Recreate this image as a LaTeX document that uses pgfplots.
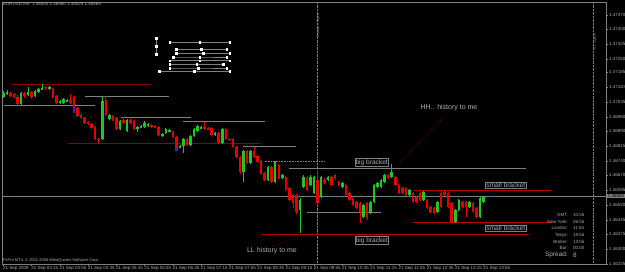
\documentclass[border=0pt]{standalone}
\usepackage{fontspec}
\setmainfont{Liberation Sans}
\usepackage{pgfplots}
\usepackage{pgfplotstable}
\pgfplotsset{compat=1.18}
\definecolor{cgreen}{RGB}{30,200,30}
\definecolor{cred}{RGB}{230,0,0}
\definecolor{cblue}{RGB}{40,40,230}
\definecolor{dred}{RGB}{140,0,0}
\definecolor{mred}{RGB}{185,0,0}
\definecolor{lgray}{RGB}{128,128,128}
\definecolor{txtgray}{RGB}{175,175,175}
\definecolor{pgray}{RGB}{110,130,140}
\definecolor{boxgray}{RGB}{120,130,140}

\pgfplotstableread{
x o h l c
31 1.47060 1.47090 1.47055 1.47080
32 1.47075 1.47095 1.47070 1.47085
36 1.47025 1.47085 1.47020 1.47080
38 1.47070 1.47110 1.47065 1.47085
40 1.47065 1.47095 1.47060 1.47090
41 1.47085 1.47105 1.47080 1.47100
42 1.47100 1.47125 1.47095 1.47105
44 1.47100 1.47115 1.47095 1.47110
47 1.47030 1.47045 1.47025 1.47040
48 1.47030 1.47055 1.47025 1.47050
49 1.47040 1.47050 1.47035 1.47045
59 1.46850 1.47060 1.46845 1.47040
61 1.46950 1.46975 1.46945 1.46970
64 1.46900 1.46945 1.46895 1.46940
66 1.46890 1.46950 1.46885 1.46945
69 1.46900 1.46915 1.46885 1.46910
70 1.46910 1.46920 1.46905 1.46915
71 1.46910 1.46940 1.46905 1.46930
72 1.46915 1.46930 1.46910 1.46925
76 1.46865 1.46880 1.46860 1.46875
77 1.46880 1.46905 1.46875 1.46900
78 1.46890 1.46900 1.46885 1.46895
81 1.46810 1.46820 1.46805 1.46815
82 1.46815 1.46855 1.46780 1.46850
84 1.46820 1.46870 1.46815 1.46865
85 1.46865 1.46905 1.46860 1.46900
86 1.46890 1.46920 1.46885 1.46915
87 1.46905 1.46915 1.46900 1.46910
91 1.46870 1.46885 1.46865 1.46880
93 1.46830 1.46905 1.46825 1.46900
99 1.46685 1.46795 1.46635 1.46790
101 1.46730 1.46795 1.46725 1.46790
106 1.46645 1.46715 1.46640 1.46710
108 1.46635 1.46740 1.46630 1.46735
110 1.46655 1.46675 1.46650 1.46670
115 1.46495 1.46555 1.46380 1.46545
116 1.46610 1.46670 1.46605 1.46660
118 1.46620 1.46670 1.46615 1.46660
119 1.46580 1.46665 1.46575 1.46660
121 1.46560 1.46665 1.46555 1.46660
123 1.46645 1.46665 1.46640 1.46660
127 1.46610 1.46635 1.46605 1.46630
133 1.46460 1.46525 1.46455 1.46520
135 1.46480 1.46540 1.46475 1.46535
136 1.46535 1.46625 1.46530 1.46620
137 1.46610 1.46635 1.46605 1.46630
138 1.46610 1.46650 1.46605 1.46645
139 1.46635 1.46675 1.46630 1.46670
141 1.46660 1.46725 1.46655 1.46685
146 1.46570 1.46600 1.46565 1.46595
150 1.46545 1.46590 1.46540 1.46585
154 1.46485 1.46540 1.46480 1.46535
159 1.46435 1.46500 1.46430 1.46495
160 1.46495 1.46550 1.46490 1.46545
163 1.46510 1.46540 1.46505 1.46535
166 1.46460 1.46560 1.46455 1.46555
167 1.46535 1.46565 1.46530 1.46560
}\greentab

\pgfplotstableread{
x o h l c
33 1.47080 1.47085 1.47060 1.47065
34 1.47075 1.47080 1.47055 1.47060
35 1.47060 1.47070 1.47020 1.47025
37 1.47080 1.47085 1.47055 1.47065
39 1.47085 1.47090 1.47050 1.47060
43 1.47110 1.47115 1.47095 1.47100
45 1.47100 1.47105 1.47055 1.47060
46 1.47065 1.47070 1.47025 1.47030
50 1.47045 1.47075 1.47025 1.47030
51 1.47060 1.47065 1.47005 1.47010
52 1.47005 1.47010 1.46960 1.46965
53 1.46970 1.46975 1.46950 1.46955
54 1.46955 1.46960 1.46925 1.46930
55 1.46935 1.46940 1.46920 1.46925
56 1.46925 1.46930 1.46900 1.46905
57 1.46910 1.46915 1.46845 1.46850
58 1.46850 1.46855 1.46830 1.46845
60 1.47045 1.47065 1.46965 1.46970
62 1.46965 1.46970 1.46940 1.46945
63 1.46955 1.46960 1.46895 1.46900
65 1.46945 1.46960 1.46925 1.46930
67 1.46945 1.46950 1.46925 1.46930
68 1.46940 1.46945 1.46895 1.46900
73 1.46920 1.46925 1.46905 1.46910
74 1.46915 1.46920 1.46905 1.46910
75 1.46910 1.46915 1.46865 1.46870
79 1.46885 1.46890 1.46855 1.46860
80 1.46860 1.46865 1.46805 1.46810
83 1.46850 1.46855 1.46815 1.46820
88 1.46910 1.46935 1.46895 1.46900
89 1.46905 1.46910 1.46895 1.46900
90 1.46905 1.46910 1.46865 1.46870
92 1.46880 1.46885 1.46825 1.46830
94 1.46900 1.46905 1.46845 1.46850
95 1.46850 1.46855 1.46840 1.46845
96 1.46850 1.46855 1.46805 1.46810
97 1.46810 1.46815 1.46755 1.46760
98 1.46760 1.46765 1.46675 1.46685
100 1.46790 1.46795 1.46725 1.46730
102 1.46790 1.46810 1.46755 1.46760
103 1.46765 1.46770 1.46730 1.46735
104 1.46740 1.46745 1.46670 1.46675
105 1.46680 1.46685 1.46640 1.46645
107 1.46710 1.46715 1.46630 1.46635
109 1.46720 1.46725 1.46650 1.46655
111 1.46660 1.46665 1.46590 1.46595
112 1.46605 1.46610 1.46540 1.46545
113 1.46570 1.46575 1.46505 1.46530
114 1.46570 1.46575 1.46475 1.46485
117 1.46655 1.46665 1.46590 1.46595
120 1.46645 1.46695 1.46520 1.46530
122 1.46645 1.46655 1.46625 1.46630
124 1.46660 1.46665 1.46615 1.46620
125 1.46670 1.46675 1.46645 1.46655
126 1.46635 1.46640 1.46615 1.46620
128 1.46620 1.46625 1.46565 1.46570
129 1.46580 1.46585 1.46540 1.46545
130 1.46555 1.46560 1.46515 1.46520
131 1.46535 1.46540 1.46500 1.46505
132 1.46530 1.46535 1.46430 1.46485
134 1.46530 1.46535 1.46445 1.46455
140 1.46670 1.46675 1.46650 1.46655
142 1.46660 1.46665 1.46615 1.46620
143 1.46620 1.46625 1.46575 1.46580
144 1.46605 1.46610 1.46575 1.46580
145 1.46605 1.46610 1.46565 1.46570
147 1.46580 1.46585 1.46530 1.46535
148 1.46560 1.46565 1.46530 1.46535
149 1.46580 1.46585 1.46540 1.46545
151 1.46545 1.46550 1.46500 1.46505
152 1.46510 1.46515 1.46480 1.46485
153 1.46505 1.46510 1.46475 1.46480
155 1.46580 1.46595 1.46505 1.46510
156 1.46585 1.46590 1.46565 1.46570
157 1.46580 1.46585 1.46505 1.46510
158 1.46530 1.46535 1.46430 1.46435
161 1.46535 1.46540 1.46505 1.46510
162 1.46535 1.46540 1.46460 1.46510
164 1.46530 1.46535 1.46480 1.46485
165 1.46505 1.46510 1.46455 1.46460
}\redtab

\pgfplotstableread{
x o c
51 1.47010 1.46980
80 1.46810 1.46790
}\bluetab

\newcommand{\tinyf}{\fontsize{4.5}{5}\selectfont}

\begin{document}
\begin{tikzpicture}[x=1pt,y=1pt]
\path[use as bounding box] (0,0) rectangle (625,272);
\fill[black] (0,0) rectangle (625,272);
\begin{axis}[
  at={(2pt,8pt)}, anchor=south west,
  width=604pt, height=262pt, scale only axis,
  xmin=30.6, xmax=201.7, ymin=1.46225, ymax=1.47535,
  axis background/.style={fill=black},
  axis line style={draw=lgray, line width=0.5pt},
  ytick pos=right, yticklabel pos=right,
  xtick pos=bottom,
  tick align=outside, major tick length=2pt,
  tick style={draw=lgray, line width=0.4pt},
  ytick={1.47470,1.47400,1.47325,1.47250,1.47185,1.47110,1.47035,1.46960,1.46890,1.46815,1.46740,1.46670,1.46595,1.46520,1.46445,1.46375,1.46300,1.46225},
  yticklabels={1.47470,1.47400,1.47325,1.47250,1.47185,1.47110,1.47035,1.46960,1.46890,1.46815,1.46740,1.46670,1.46595,1.46520,1.46445,1.46375,1.46300,1.46225},
  xtick={31,39,47,55,63,71,79,87,95,103,111,119,127,135,143,151,159,167},
  xticklabels={21 Sep 2009,21 Sep 03:15,21 Sep 03:55,21 Sep 04:35,21 Sep 05:15,21 Sep 05:55,21 Sep 06:35,21 Sep 07:15,21 Sep 07:55,21 Sep 08:35,21 Sep 09:15,21 Sep 09:55,21 Sep 10:35,21 Sep 11:15,21 Sep 11:55,21 Sep 12:35,21 Sep 13:15,21 Sep 13:55},
  xticklabel style={anchor=north west, font=\tinyf, text=txtgray, inner sep=0.6pt, xshift=-1pt},
  yticklabel style={anchor=west, font=\tinyf, text=txtgray, inner sep=0.8pt},
  clip=true,
]
% vertical session lines
\addplot[lgray, densely dotted, line width=0.4pt, forget plot] coordinates {(120.0,1.46225) (120.0,1.47535)};
\addplot[lgray, densely dotted, line width=0.4pt, forget plot] coordinates {(198.2,1.46225) (198.2,1.47535)};
% current price line
\addplot[pgray, line width=0.5pt, forget plot] coordinates {(30,1.46565) (202,1.46565)};
% dark red / red horizontal levels
\addplot[dred, line width=0.6pt, forget plot] coordinates {(33.1,1.47124) (73.0,1.47124)};
\addplot[dred, line width=0.6pt, forget plot] coordinates {(49.2,1.46829) (103.9,1.46829)};
\addplot[mred, line width=0.6pt, forget plot] coordinates {(103.9,1.46375) (180.0,1.46375)};
\addplot[mred, line width=0.6pt, forget plot] coordinates {(147.4,1.46592) (186.1,1.46592)};
\addplot[mred, line width=0.6pt, forget plot] coordinates {(146.9,1.46434) (186.1,1.46434)};
% gray levels
\addplot[lgray, line width=0.6pt, forget plot] coordinates {(31.2,1.47019) (57.0,1.47019)};
\addplot[lgray, line width=0.6pt, forget plot] coordinates {(54.2,1.47064) (78.0,1.47064)};
\addplot[lgray, line width=0.6pt, forget plot] coordinates {(64.2,1.46959) (84.0,1.46959)};
\addplot[lgray, line width=0.6pt, forget plot] coordinates {(82.0,1.46939) (105.0,1.46939)};
\addplot[lgray, line width=0.6pt, forget plot] coordinates {(99.0,1.46814) (114.0,1.46814)};
\addplot[lgray, line width=0.6pt, densely dotted, forget plot] coordinates {(105.0,1.46739) (122.0,1.46739)};
\addplot[lgray, line width=0.6pt, forget plot] coordinates {(112.0,1.46704) (178.9,1.46704)};
\addplot[lgray, line width=0.6pt, forget plot] coordinates {(117.1,1.46484) (137.9,1.46484)};
% arrows to HH / LL
\addplot[dred, densely dotted, line width=0.6pt, forget plot] coordinates {(143.1,1.46729) (156.3,1.46970)};
\addplot[dred, densely dotted, line width=0.6pt, forget plot] coordinates {(107.2,1.46315) (114.3,1.46357)};
% selected horizontal-line object with white handles
\begin{scope}[every mark/.append style={fill=white, draw=white}]
\addplot[lgray, line width=0.4pt, mark=square*, mark size=0.8pt, forget plot] coordinates {(74.2,1.47354) (74.2,1.47315) (74.2,1.47274)};
\addplot[lgray, line width=0.4pt, mark=square*, mark size=0.8pt, forget plot] coordinates {(78.1,1.47334) (86.6,1.47334) (95.1,1.47334)};
\addplot[lgray, line width=0.4pt, mark=square*, mark size=0.8pt, forget plot] coordinates {(80.0,1.47299) (87.1,1.47299) (94.2,1.47299)};
\addplot[lgray, line width=0.4pt, mark=square*, mark size=0.8pt, forget plot] coordinates {(80.0,1.47279) (87.6,1.47279) (95.1,1.47279)};
\addplot[lgray, line width=0.4pt, mark=square*, mark size=0.8pt, forget plot] coordinates {(79.1,1.47260) (86.6,1.47260) (94.2,1.47260)};
\addplot[lgray, line width=0.4pt, mark=square*, mark size=0.8pt, forget plot] coordinates {(78.1,1.47242) (86.6,1.47242) (95.1,1.47242)};
\addplot[lgray, line width=0.4pt, mark=square*, mark size=0.8pt, forget plot] coordinates {(78.1,1.47224) (85.7,1.47224) (93.3,1.47224)};
\addplot[lgray, line width=0.4pt, mark=square*, mark size=0.8pt, forget plot] coordinates {(78.1,1.47205) (86.2,1.47205) (94.2,1.47205)};
\addplot[lgray, line width=0.4pt, mark=square*, mark size=0.8pt, forget plot] coordinates {(75.1,1.47189) (85.1,1.47189) (95.1,1.47189)};
\end{scope}
% candles: wicks
\addplot[draw=none, mark=none, forget plot,
  error bars/y dir=both, error bars/y explicit, error bars/error mark=none,
  error bars/error bar style={draw=cgreen, line width=0.7pt}]
  table[x=x, y expr={(\thisrow{h}+\thisrow{l})/2}, y error expr={(\thisrow{h}-\thisrow{l})/2}] {\greentab};
\addplot[draw=none, mark=none, forget plot,
  error bars/y dir=both, error bars/y explicit, error bars/error mark=none,
  error bars/error bar style={draw=cred, line width=0.7pt}]
  table[x=x, y expr={(\thisrow{h}+\thisrow{l})/2}, y error expr={(\thisrow{h}-\thisrow{l})/2}] {\redtab};
% candles: bodies
\addplot[draw=none, mark=none, forget plot,
  error bars/y dir=both, error bars/y explicit, error bars/error mark=none,
  error bars/error bar style={draw=cgreen, line width=2.5pt}]
  table[x=x, y expr={(\thisrow{o}+\thisrow{c})/2}, y error expr={abs(\thisrow{o}-\thisrow{c})/2}] {\greentab};
\addplot[draw=none, mark=none, forget plot,
  error bars/y dir=both, error bars/y explicit, error bars/error mark=none,
  error bars/error bar style={draw=cred, line width=2.5pt}]
  table[x=x, y expr={(\thisrow{o}+\thisrow{c})/2}, y error expr={abs(\thisrow{o}-\thisrow{c})/2}] {\redtab};
\addplot[draw=none, mark=none, forget plot,
  error bars/y dir=both, error bars/y explicit, error bars/error mark=none,
  error bars/error bar style={draw=cblue, line width=2.5pt}]
  table[x=x, y expr={(\thisrow{o}+\thisrow{c})/2}, y error expr={abs(\thisrow{o}-\thisrow{c})/2}] {\bluetab};
\end{axis}
% texts
\node[anchor=west, font=\tinyf, text=txtgray, inner sep=0] at (3,267.5) {EURUSD,M5\ \ 1.46540 1.46560 1.46529 1.46560};
\node[anchor=west, font=\fontsize{4}{4.5}\selectfont, text=txtgray, inner sep=0] at (3,12) {FxPro MT4, © 2001-2008 MetaQuotes Software Corp.};
\node[font=\fontsize{4}{4.5}\selectfont, text=lgray, rotate=90, inner sep=0] at (318,247) {London Open};
\node[font=\fontsize{4}{4.5}\selectfont, text=lgray, rotate=90, inner sep=0] at (595,230) {NY Open};
\node[font=\fontsize{7}{8}\selectfont, text=txtgray, inner sep=0] at (449,164.7) {HH.. history to me};
\node[font=\fontsize{7}{8}\selectfont, text=txtgray, inner sep=0] at (272,21) {LL history to me};
\node[draw=boxgray, line width=0.5pt, font=\fontsize{6.6}{7.5}\selectfont, text=txtgray, inner sep=0.8pt] at (371.7,109.5) {big bracket};
\node[draw=boxgray, line width=0.5pt, font=\fontsize{6.6}{7.5}\selectfont, text=txtgray, inner sep=0.8pt] at (371.8,31.7) {big bracket};
\node[draw=boxgray, line width=0.5pt, font=\fontsize{6.6}{7.5}\selectfont, text=txtgray, inner sep=0.8pt] at (505.8,86.7) {small bracket};
\node[draw=boxgray, line width=0.5pt, font=\fontsize{6.6}{7.5}\selectfont, text=txtgray, inner sep=0.8pt] at (505.8,43.5) {small bracket};
% info panel
\begin{scope}[every node/.style={font=\tinyf, text=txtgray, inner sep=0}]
\node[anchor=east] at (568,57) {GMT:};      \node[anchor=west] at (573,57) {10:55};
\node[anchor=east] at (568,50.3) {New York:}; \node[anchor=west] at (573,50.3) {06:55};
\node[anchor=east] at (568,43.7) {London:};   \node[anchor=west] at (573,43.7) {11:55};
\node[anchor=east] at (568,37) {Tokyo:};      \node[anchor=west] at (573,37) {19:55};
\node[anchor=east] at (568,30.3) {Broker:};   \node[anchor=west] at (573,30.3) {13:55};
\node[anchor=east] at (568,23.7) {Bar:};      \node[anchor=west] at (573,23.7) {00:00};
\end{scope}
\node[anchor=east, font=\fontsize{6.5}{7}\selectfont, text=txtgray, inner sep=0] at (568,17) {Spread:};
\node[anchor=west, font=\fontsize{6.5}{7}\selectfont, text=txtgray, inner sep=0] at (573,17) {8};
% current price tag
\node[anchor=west, fill=lgray, text=black, font=\tinyf, inner sep=0.6pt] at (607,76) {1.46560};
\end{tikzpicture}
\end{document}
